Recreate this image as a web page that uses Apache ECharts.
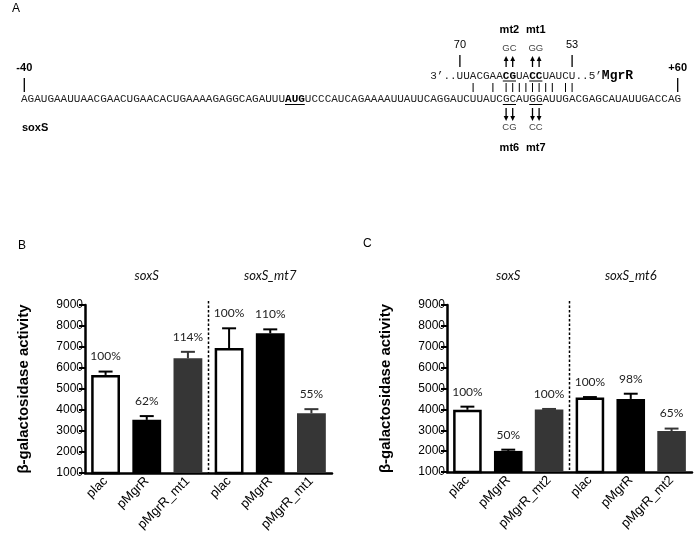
<!DOCTYPE html>
<html><head><meta charset="utf-8">
<script src="https://cdn.jsdelivr.net/npm/echarts@6/dist/echarts.min.js"></script>
<style>html,body{margin:0;padding:0;background:#fff}#c{width:698px;height:537px}</style>
</head><body><div id="c"></div>
<script>
// ---------- Panel A data ----------
const soxSSeq = 'AGAUGAAUUAACGAACUGAACACUGAAAAGAGGCAGAUUUAUGUCCCAUCAGAAAAUUAUUCAGGAUCUUAUCGCAUGGAUUGACGAGCAUAUUGACCAG';
const soxSBold = [[40, 3]];
const soxSUnderline = [[40, 3], [73, 2], [77, 2]];
const mgrRSeq = '3\u2019..UUACGAACGUACCUAUCU..5\u2019';
const mgrROffset = 62;               // MgrR char i sits above soxS char i+62
const mgrRBold = [[11, 2], [15, 2]];
const pairedSoxS = [68, 71, 73, 74, 75, 76, 77, 78, 79, 80, 82, 83];
const soxSMarks = [{ idx: 0, label: '-40' }, { idx: 99, label: '+60' }];
const mgrRMarks = [{ idx: 4, label: '70' }, { idx: 21, label: '53' }];
const upMutations = [{ idx: 11, bases: 'GC', name: 'mt2' }, { idx: 15, bases: 'GG', name: 'mt1' }];
const downMutations = [{ idx: 73, bases: 'CG', name: 'mt6' }, { idx: 77, bases: 'CC', name: 'mt7' }];

// ---------- Panels B / C data ----------
const categoriesB = ['plac', 'pMgrR', 'pMgrR_mt1', 'plac', 'pMgrR', 'pMgrR_mt1'];
const valuesB = [5670, 3530, 6460, 6950, 7650, 3840];
const errorsB = [160, 180, 310, 940, 190, 200];
const percentB = ['100%', '62%', '114%', '100%', '110%', '55%'];
const groupsB = ['soxS', 'soxS_mt7'];

const categoriesC = ['plac', 'pMgrR', 'pMgrR_mt2', 'plac', 'pMgrR', 'pMgrR_mt2'];
const valuesC = [3980, 2010, 4000, 4570, 4500, 2960];
const errorsC = [150, 60, 20, 20, 250, 120];
const percentC = ['100%', '50%', '100%', '100%', '98%', '65%'];
const groupsC = ['soxS', 'soxS_mt6'];

const yTicks = [1000, 2000, 3000, 4000, 5000, 6000, 7000, 8000, 9000];
const yTitle = '\u03b2-galactosidase activity';

// ---------- styling ----------
const barFills = ['#ffffff', '#000000', '#363636'];
const errColors = ['#000000', '#000000', '#363636'];
const SANS = 'Liberation Sans';
const MONO = 'Liberation Mono';
const PCT_FONT = '12px Lato';

// panel A layout
const seqLeft = 21, charW = 6.6, seqY = 99, mgrY = 76;
const cx = i => seqLeft + (i + 0.5) * charW;
const lx = i => seqLeft + i * charW;

function richText(str, ranges, nk, bk) {
  let out = '', pos = 0;
  ranges.forEach(([s, l]) => {
    if (s > pos) out += '{' + nk + '|' + str.slice(pos, s) + '}';
    out += '{' + bk + '|' + str.slice(s, s + l) + '}';
    pos = s + l;
  });
  if (pos < str.length) out += '{' + nk + '|' + str.slice(pos) + '}';
  return out;
}
function txt(x, y, text, font, fill, align) {
  return { type: 'text', x: x, y: y, silent: true,
    style: { text: text, font: font, fill: fill || '#000', textAlign: align || 'center', textVerticalAlign: 'middle' } };
}
function ln(x1, y1, x2, y2, w, col) {
  return { type: 'line', silent: true, shape: { x1: x1, y1: y1, x2: x2, y2: y2 }, style: { stroke: col || '#000', lineWidth: w || 1 } };
}
function arrow(x, yTail, yHead) {
  const d = yHead < yTail ? 1 : -1;
  return [ln(x, yTail, x, yHead + d * 4, 1.3),
    { type: 'polygon', silent: true, shape: { points: [[x - 2.4, yHead + d * 5], [x + 2.4, yHead + d * 5], [x, yHead]] }, style: { fill: '#000' } }];
}

const els = [];
els.push(txt(12, 9, 'A', '12px ' + SANS, '#000', 'left'));
els.push(txt(18, 246, 'B', '12px ' + SANS, '#000', 'left'));
els.push(txt(363, 244, 'C', '12px ' + SANS, '#000', 'left'));
// soxS sequence
els.push({ type: 'text', x: seqLeft, y: seqY, silent: true,
  style: { text: richText(soxSSeq, soxSBold, 'n', 'b'), textAlign: 'left', textVerticalAlign: 'middle',
    rich: { n: { font: '11px ' + MONO, fill: '#222' }, b: { font: 'bold 11px ' + MONO, fill: '#000' } } } });
soxSUnderline.forEach(([s, l]) => els.push(ln(lx(s), seqY + 5.5, lx(s + l), seqY + 5.5, 1)));
els.push(txt(22, 128, 'soxS', 'bold 11px ' + SANS, '#000', 'left'));
soxSMarks.forEach(m => {
  els.push(txt(cx(m.idx), 68, m.label, 'bold 11px ' + SANS));
  els.push(ln(cx(m.idx), 78, cx(m.idx), 92, 1.3));
});
// MgrR
const mgrLeft = lx(mgrROffset);
els.push({ type: 'text', x: mgrLeft, y: mgrY, silent: true,
  style: { text: richText(mgrRSeq, mgrRBold, 'n', 'b') + '{m|MgrR}', textAlign: 'left', textVerticalAlign: 'middle',
    rich: { n: { font: '11px ' + MONO, fill: '#222' }, b: { font: 'bold 11px ' + MONO, fill: '#000' }, m: { font: 'bold 13px ' + MONO, fill: '#000' } } } });
mgrRBold.forEach(([s, l]) => els.push(ln(lx(s + mgrROffset), mgrY + 5, lx(s + l + mgrROffset), mgrY + 5, 1)));
mgrRMarks.forEach(m => {
  const x = cx(m.idx + mgrROffset);
  els.push(txt(x, 45, m.label, '11px ' + SANS));
  els.push(ln(x, 55, x, 67, 1.3));
});
pairedSoxS.forEach(i => els.push(ln(cx(i), 83, cx(i), 92, 1)));
upMutations.forEach(m => {
  const a = cx(m.idx + mgrROffset), b = cx(m.idx + 1 + mgrROffset), mid = (a + b) / 2;
  arrow(a, 67, 56).concat(arrow(b, 67, 56)).forEach(e => els.push(e));
  els.push(txt(mid, 48, m.bases, '9.5px ' + SANS, '#444'));
  els.push(txt(mid, 30, m.name, 'bold 11px ' + SANS));
});
downMutations.forEach(m => {
  const a = cx(m.idx), b = cx(m.idx + 1), mid = (a + b) / 2;
  arrow(a, 108, 121).concat(arrow(b, 108, 121)).forEach(e => els.push(e));
  els.push(txt(mid, 127, m.bases, '9.5px ' + SANS, '#444'));
  els.push(txt(mid, 148, m.name, 'bold 11px ' + SANS));
});

// ---------- chart series builders ----------
function barSeries(k, values) {
  return { type: 'bar', xAxisIndex: k, yAxisIndex: k, barWidth: '70%', z: 2,
    data: values.map((v, i) => ({ value: v, itemStyle: { color: barFills[i % 3], borderColor: '#000', borderWidth: i % 3 === 0 ? 2.5 : 0 } })) };
}
function errSeries(k, values, errors, pcts) {
  return { type: 'custom', xAxisIndex: k, yAxisIndex: k, clip: false, z: 3, silent: true,
    data: values.map((v, i) => [i, v, errors[i]]),
    renderItem: (params, api) => {
      const i = api.value(0), v = api.value(1), e = api.value(2);
      const base = api.coord([i, v]), top = api.coord([i, v + e]);
      const cap = api.size([1, 0])[0] * 0.17;
      const col = errColors[params.dataIndex % 3];
      return { type: 'group', children: [
        { type: 'line', shape: { x1: base[0], y1: base[1], x2: top[0], y2: top[1] }, style: { stroke: col, lineWidth: 2 } },
        { type: 'line', shape: { x1: top[0] - cap, y1: top[1], x2: top[0] + cap, y2: top[1] }, style: { stroke: col, lineWidth: 2 } },
        { type: 'text', x: top[0], y: top[1] - 15, style: { text: pcts[params.dataIndex], font: PCT_FONT, fill: '#222', textAlign: 'center', textVerticalAlign: 'middle' } }
      ] };
    } };
}
function decoSeries(k, groups) {
  return { type: 'custom', xAxisIndex: k, yAxisIndex: k, clip: false, silent: true, z: 3,
    data: groups.map((g, j) => [j * 3 + 1, yTicks[yTicks.length - 1]]),
    renderItem: (params, api) => {
      const j = params.dataIndex, c = api.value(0), ymax = api.value(1);
      const p = api.coord([c, ymax]);
      const children = [{ type: 'text', x: p[0], y: p[1] - 29, style: { text: groups[j], font: 'italic 13px Lato', fill: '#111', textAlign: 'center', textVerticalAlign: 'middle' } }];
      if (j > 0) {
        const xa = api.coord([c - 2, ymax])[0], xb = api.coord([c - 1, ymax])[0];
        const xm = (xa + xb) / 2, yb = api.coord([c, yTicks[0]])[1];
        children.push({ type: 'line', shape: { x1: xm, y1: p[1] - 4, x2: xm, y2: yb }, style: { stroke: '#000', lineWidth: 1.5, lineDash: [2.5, 2] } });
      }
      return { type: 'group', children: children };
    } };
}
function xAx(k, cats) {
  return { type: 'category', gridIndex: k, data: cats,
    axisLine: { lineStyle: { color: '#000', width: 2.5 } },
    axisTick: { alignWithLabel: true, length: 5, lineStyle: { width: 2, color: '#000' } },
    axisLabel: { rotate: 45, interval: 0, fontSize: 13, fontFamily: SANS, color: '#000', margin: 6 } };
}
function yAx(k) {
  return { type: 'value', gridIndex: k, min: yTicks[0], max: yTicks[yTicks.length - 1], interval: 1000,
    name: yTitle, nameLocation: 'middle', nameGap: 54, nameRotate: 90,
    nameTextStyle: { fontFamily: SANS, fontWeight: 'bold', fontSize: 15, color: '#000' },
    axisLine: { show: true, lineStyle: { color: '#000', width: 2.5 } },
    axisTick: { show: true, length: 6, lineStyle: { width: 2, color: '#000' } },
    axisLabel: { fontSize: 12, fontFamily: SANS, color: '#000', margin: 2, formatter: v => String(v) },
    splitLine: { show: false } };
}

const chart = echarts.init(document.getElementById('c'), null, { renderer: 'canvas' });
chart.setOption({
  animation: false,
  backgroundColor: '#fff',
  grid: [{ left: 85, top: 305, width: 247, height: 168 }, { left: 447, top: 305, width: 245, height: 167 }],
  xAxis: [xAx(0, categoriesB), xAx(1, categoriesC)],
  yAxis: [yAx(0), yAx(1)],
  series: [barSeries(0, valuesB), errSeries(0, valuesB, errorsB, percentB), decoSeries(0, groupsB),
           barSeries(1, valuesC), errSeries(1, valuesC, errorsC, percentC), decoSeries(1, groupsC)],
  graphic: { elements: els }
});
</script></body></html>
